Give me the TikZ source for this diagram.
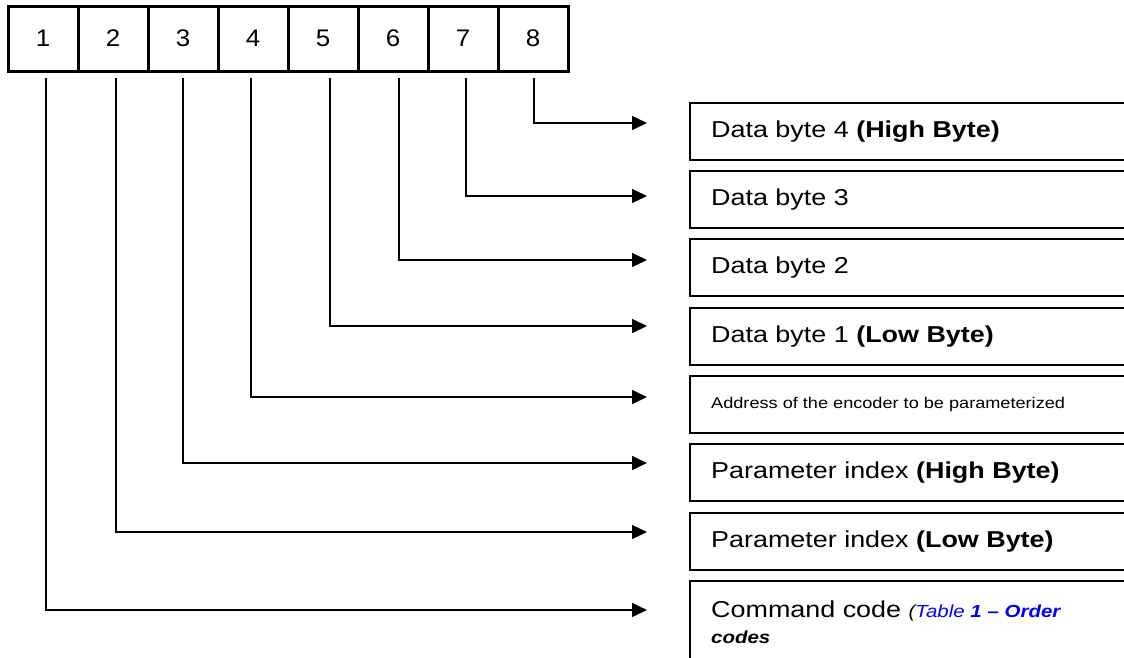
\documentclass[tikz,border=0pt]{standalone}
\usepackage{fontspec}
\setmainfont{Liberation Sans}[FakeStretch=1.17]
\newfontfamily\digitfont{Liberation Sans}[FakeStretch=1.08]
\usetikzlibrary{arrows.meta,calc}
\begin{document}
\begin{tikzpicture}[x=1pt,y=-1pt,
  cell/.style={draw, line width=3pt, minimum width=70pt, minimum height=65pt, inner sep=0pt, font=\digitfont\fontsize{24}{28}\selectfont},
  field/.style={draw, line width=1.6pt, minimum width=540pt, minimum height=57pt, anchor=north west, inner sep=0pt, outer sep=0pt},
  lbl/.style={anchor=base west, inner sep=0pt, font=\fontsize{23}{27}\selectfont},
  small/.style={font=\fontsize{15.5}{18}\selectfont},
  conn/.style={line width=1.5pt, -{Triangle[length=15pt,width=14pt]}}]
\useasboundingbox (0,0) rectangle (1124,657);
% top byte cells
\foreach \i in {1,...,8} {
  \node[cell] (b\i) at ({43+70*(\i-1)},38.5) {\i};
}
% right fields
\node[field] (r8) at (690,103) {};
\node[field] (r7) at (690,171) {};
\node[field] (r6) at (690,239) {};
\node[field] (r5) at (690,308) {};
\node[field] (r4) at (690,376) {};
\node[field] (r3) at (690,444) {};
\node[field] (r2) at (690,513) {};
\node[field, minimum height=110pt] (r1) at (690,581) {};
% labels
\node[lbl] (t8) at ($(r8.north west)+(21,34)$) {Data byte 4 \textbf{(High Byte)}};
\node[lbl] (t7) at ($(r7.north west)+(21,34)$) {Data byte 3};
\node[lbl] (t6) at ($(r6.north west)+(21,34)$) {Data byte 2};
\node[lbl] (t5) at ($(r5.north west)+(21,34)$) {Data byte 1 \textbf{(Low Byte)}};
\node[lbl, small] (t4) at ($(r4.north west)+(21,32)$) {Address of the encoder to be parameterized};
\node[lbl] (t3) at ($(r3.north west)+(21,34)$) {Parameter index \textbf{(High Byte)}};
\node[lbl] (t2) at ($(r2.north west)+(21,34)$) {Parameter index \textbf{(Low Byte)}};
\node[lbl] (t1) at ($(r1.north west)+(21,36)$) {Command code {\fontsize{17.5}{20}\selectfont\itshape (\textcolor{blue}{Table \textbf{1 – Order}}}};
\node[lbl, font=\fontsize{17.5}{20}\selectfont\bfseries\itshape] (t0) at ($(r1.north west)+(21,62)$) {codes};
% connector start and end points
\coordinate (s1) at (46,78);  \coordinate (e1) at (647,610);
\coordinate (s2) at (116,78); \coordinate (e2) at (647,532);
\coordinate (s3) at (183,78); \coordinate (e3) at (647,463);
\coordinate (s4) at (251,78); \coordinate (e4) at (647,397);
\coordinate (s5) at (330,78); \coordinate (e5) at (647,326);
\coordinate (s6) at (399,78); \coordinate (e6) at (647,260);
\coordinate (s7) at (466,78); \coordinate (e7) at (647,196);
\coordinate (s8) at (534,78); \coordinate (e8) at (647,123);
\foreach \i in {1,...,8} {
  \draw[conn] (s\i) |- (e\i);
}
\end{tikzpicture}
\end{document}
